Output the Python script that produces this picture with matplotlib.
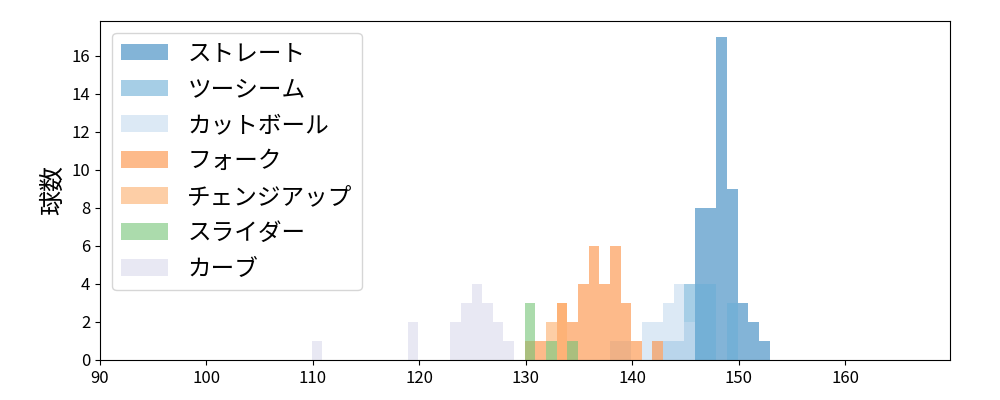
import matplotlib
matplotlib.use("Agg")
import matplotlib.pyplot as plt

plt.rcParams['font.family'] = ['Noto Sans CJK JP', 'DejaVu Sans']

# 球種ごとのビン左端 (km/h) と球数
straight_bins = [145.9, 146.9, 147.9, 148.9, 149.9, 150.9, 151.9]
straight_cnt = [8, 8, 17, 9, 3, 2, 1]

twoseam_bins = [142.9, 143.9, 144.9, 145.9, 146.9, 148.9]
twoseam_cnt = [1, 1, 4, 4, 4, 3]

cut_bins = [137.9, 138.9, 140.9, 141.9, 142.9, 143.9, 144.9]
cut_cnt = [1, 1, 2, 2, 3, 4, 2]

fork_bins = [129.9, 130.9, 132.9, 133.9, 134.9, 135.9, 136.9, 137.9, 138.9, 139.9, 141.9]
fork_cnt = [1, 1, 3, 2, 4, 6, 4, 6, 3, 1, 1]

change_bins = [131.9, 132.9]
change_cnt = [2, 3]

slider_bins = [129.9, 131.9, 133.9]
slider_cnt = [3, 1, 1]

curve_bins = [109.9, 118.9, 122.9, 123.9, 124.9, 125.9, 126.9, 127.9]
curve_cnt = [1, 2, 2, 3, 4, 3, 2, 1]

names = ["ストレート", "ツーシーム", "カットボール", "フォーク", "チェンジアップ", "スライダー", "カーブ"]
colors = ["#3182bd", "#6baed6", "#c6dbef", "#fd8d3c", "#fdae6b", "#74c476", "#dadaeb"]
series = [
    (straight_bins, straight_cnt),
    (twoseam_bins, twoseam_cnt),
    (cut_bins, cut_cnt),
    (fork_bins, fork_cnt),
    (change_bins, change_cnt),
    (slider_bins, slider_cnt),
    (curve_bins, curve_cnt),
]

fig, ax = plt.subplots(figsize=(10, 4), dpi=100)
fig.subplots_adjust(left=0.1, right=0.95, bottom=0.1, top=0.948)

for (b, c), name, col in zip(series, names, colors):
    ax.bar(b, c, width=1.0, align='edge', color=col, alpha=0.6, label=name)

ax.set_xlim(90, 169.85)
ax.set_ylim(0, 17.85)
ax.set_yticks(range(0, 17, 2))
ax.tick_params(labelsize=12)
ax.set_ylabel("球数", fontsize=18)
ax.legend(loc='upper left', fontsize=17, labelspacing=0.55)

fig.savefig("out.png")
